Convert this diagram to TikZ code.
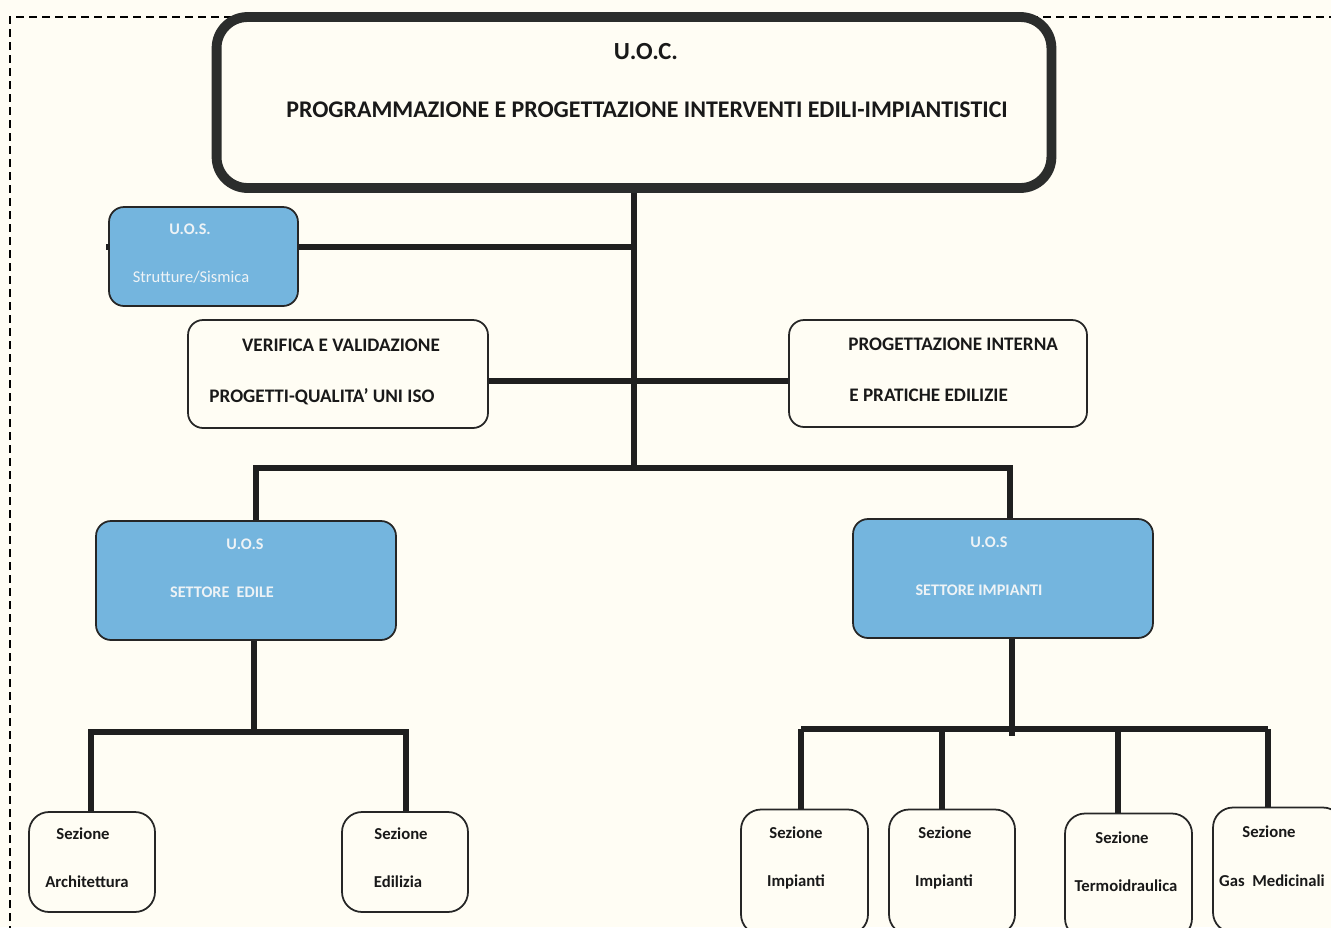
\documentclass[tikz,border=0pt]{standalone}
\usepackage{fontspec}
\setmainfont{Carlito}
\usepackage{tikz}

\definecolor{fondo}{HTML}{FFFDF4}
\definecolor{azzurro}{HTML}{74B5DE}
\definecolor{bordo}{HTML}{2B2D2C}
\definecolor{scritta}{HTML}{EEF3F6}

\tikzset{
  uocbox/.style={draw=bordo, line width=5.6pt, fill=fondo, rounded corners=0.62cm},
  uosbox/.style={draw=black!85, line width=1pt, fill=azzurro, rounded corners=0.3cm},
  areabox/.style={draw=black!85, line width=1pt, fill=fondo, rounded corners=0.3cm},
  sezbox/.style={draw=black!85, line width=1pt, fill=fondo, rounded corners=0.4cm},
  link/.style={line width=3pt, draw=black!88},
  nero/.style={font=\bfseries\fontsize{10.9}{13}\selectfont, text=black!90, inner sep=0pt},
  sez/.style={font=\bfseries\fontsize{9.5}{11}\selectfont, text=black!90, inner sep=0pt},
  bianco/.style={font=\fontsize{9.4}{11}\selectfont, text=scritta, inner sep=0pt},
  biancob/.style={font=\bfseries\fontsize{9.2}{11}\selectfont, text=scritta, inner sep=0pt},
}

\begin{document}
\begin{tikzpicture}[x=0.02cm, y=-0.02cm]

\useasboundingbox (0,0) rectangle (1331,927);
\clip (0,0) rectangle (1331,927);
\fill[fondo] (0,0) rectangle (1331,927);

% cornice tratteggiata
\draw[line width=1.4pt, dash pattern=on 4.6pt off 2.8pt] (10,960) -- (10,17) -- (1340,17);

% punti di snodo
\coordinate (hub) at (634,468);
\coordinate (hl) at (256,468);
\coordinate (hr) at (1010,468);
\coordinate (sstub) at (106,247);
\coordinate (eb) at (254,732);
\coordinate (a1) at (91,732);
\coordinate (a2) at (406,732);
\coordinate (ib) at (1012,729);
\coordinate (d1) at (801,729);
\coordinate (d2) at (942,729);
\coordinate (d3) at (1118,729);
\coordinate (d4) at (1268,729);

% box
\node[uocbox, minimum width=16.7cm, minimum height=3.42cm] (uoc) at (634,102.5) {};
\node[uosbox, minimum width=3.78cm, minimum height=1.98cm] (strutt) at (203.5,256.5) {};
\node[areabox, minimum width=6cm, minimum height=2.16cm] (verif) at (338,374) {};
\node[areabox, minimum width=5.96cm, minimum height=2.14cm] (prog) at (938,373.5) {};
\node[uosbox, minimum width=6cm, minimum height=2.38cm] (edile) at (246,580.5) {};
\node[uosbox, minimum width=6cm, minimum height=2.38cm] (impianti) at (1003,578.5) {};
\node[sezbox, minimum width=2.52cm, minimum height=2cm] (arch) at (92,862) {};
\node[sezbox, minimum width=2.52cm, minimum height=2cm] (ediliz) at (405,862) {};
\node[sezbox, minimum width=2.54cm, minimum height=2.5cm] (imp1) at (804.5,872) {};
\node[sezbox, minimum width=2.52cm, minimum height=2.5cm] (imp2) at (952,872) {};
\node[sezbox, minimum width=2.54cm, minimum height=2.5cm] (termo) at (1128.5,876) {};
\node[sezbox, minimum width=2.6cm, minimum height=2.5cm] (gas) at (1278,870) {};

% collegamenti
\draw[link] (uoc.south -| hub) -- (hub);
\draw[link] (strutt.east |- sstub) -- (sstub -| hub);
\draw[link] (sstub) -- ++(4,0);
\draw[link] (verif.east |- 0,381) -- (prog.west |- 0,381);
\draw[link] (edile.north -| hl) |- (hr) -- (hr |- impianti.north);
\draw[link] (edile.south -| eb) -- (eb);
\draw[link] (a1 |- arch.north) -- (a1) -- (a2) -- (a2 |- ediliz.north);
\draw[link] (impianti.south -| ib) -- ([yshift=-4pt]ib);
\draw[link] (d1) -- (d4);
\draw[link] (d1) -- (d1 |- imp1.north);
\draw[link] (d2) -- (d2 |- imp2.north);
\draw[link] (d3) -- (d3 |- termo.north);
\draw[link] (d4) -- (d4 |- gas.north);

% testi
\node[nero, font=\bfseries\fontsize{14}{16}\selectfont] (uoc-a) at (646,52) {U.O.C.};
\node[nero, font=\bfseries\fontsize{13.6}{16}\selectfont] (uoc-b) at (647,110) {PROGRAMMAZIONE E PROGETTAZIONE INTERVENTI EDILI-IMPIANTISTICI};

\node[biancob] (strutt-a) at (190,229) {U.O.S.};
\node[bianco] (strutt-b) at (191,277) {Strutture/Sismica};

\node[nero] (verif-a) at (341,345) {VERIFICA E VALIDAZIONE};
\node[nero] (verif-b) at (322,397) {PROGETTI-QUALITA’ UNI ISO};

\node[nero, anchor=west] (prog-a) at (848,344) {PROGETTAZIONE INTERNA};
\node[nero, anchor=west] (prog-b) at (849,395) {E PRATICHE EDILIZIE};

\node[biancob] (edile-a) at (245,544) {U.O.S};
\node[biancob] (edile-b) at (222,592) {SETTORE\ \ EDILE};
\node[biancob] (impianti-a) at (989,542) {U.O.S};
\node[biancob] (impianti-b) at (979,590) {SETTORE IMPIANTI};

\node[sez] (arch-a) at (83,834) {Sezione};
\node[sez] (arch-b) at (87,882) {Architettura};
\node[sez] (ediliz-a) at (401,834) {Sezione};
\node[sez] (ediliz-b) at (398,882) {Edilizia};
\node[sez] (imp1-a) at (796,833) {Sezione};
\node[sez] (imp1-b) at (796,882) {Impianti};
\node[sez] (imp2-a) at (945,833) {Sezione};
\node[sez] (imp2-b) at (944,882) {Impianti};
\node[sez] (termo-a) at (1122,838) {Sezione};
\node[sez] (termo-b) at (1126,886) {Termoidraulica};
\node[sez] (gas-a) at (1269,832) {Sezione};
\node[sez] (gas-b) at (1272,881) {Gas\ \ Medicinali};

\end{tikzpicture}
\end{document}
